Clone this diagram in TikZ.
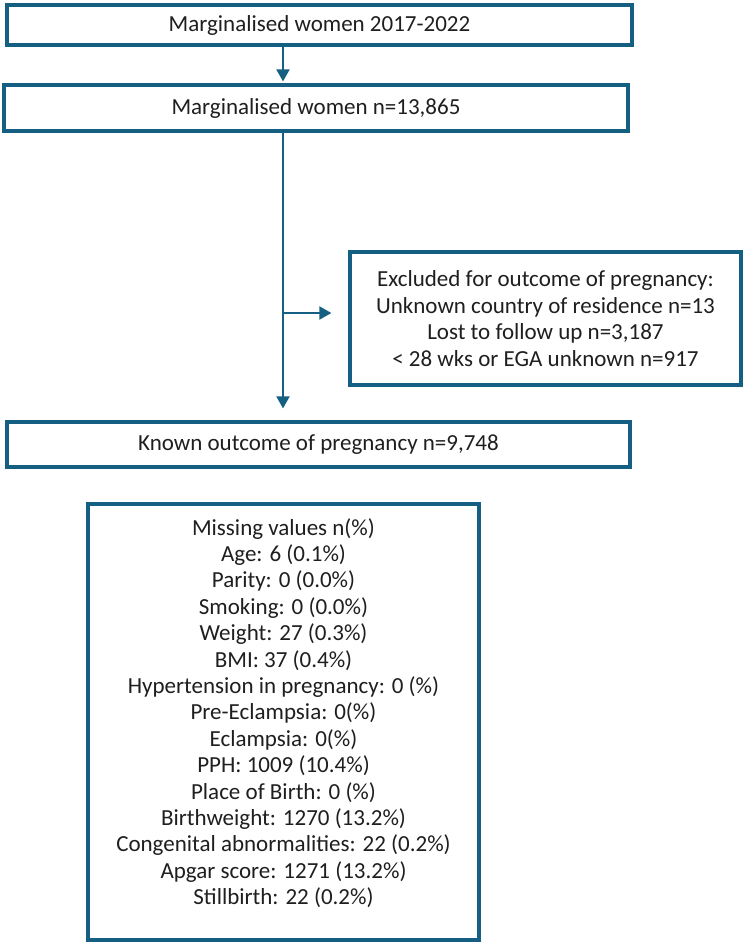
\documentclass[tikz,border=0pt]{standalone}
\usepackage{fontspec}
\setmainfont{Carlito}
\usetikzlibrary{arrows.meta}
\definecolor{fc}{HTML}{156082}
\begin{document}
\begin{tikzpicture}[x=1pt,y=1pt,
  box/.style={draw=fc, line width=3.2pt, fill=white, inner sep=0pt, align=center,
    text=black!88, font=\fontsize{23}{26.5}\selectfont},
  txt/.style={inner sep=0pt, align=center, text=black!88, font=\fontsize{23}{26.4}\selectfont},
  arr/.style={draw=fc, line width=2pt, -{Triangle[width=13pt,length=12pt]}},
  ln/.style={draw=fc, line width=2pt}]
\useasboundingbox[fill=white] (0,0) rectangle (744,-946);
\node[box, minimum width=625pt, minimum height=40pt] (b1) at (319.5,-25) {Marginalised women 2017-2022};
\node[box, minimum width=624pt, minimum height=46pt] (b2) at (316,-108) {Marginalised women n=13,865};
\node[box, minimum width=391pt, minimum height=133pt] (b3) at (545.5,-318.5) {Excluded for outcome of pregnancy:\\Unknown country of residence n=13\\Lost to follow up n=3,187\\< 28 wks or EGA unknown n=917};
\node[box, minimum width=623pt, minimum height=45pt] (b4) at (318.5,-444.5) {Known outcome of pregnancy n=9,748};
\node[box, minimum width=391pt, minimum height=436pt] (b5) at (283.5,-722) {};
\node[txt] (miss) at (283.5,-713) {Missing values n(\%)\\Age: 6 (0.1\%)\\Parity: 0 (0.0\%)\\Smoking: 0 (0.0\%)\\Weight: 27 (0.3\%)\\BMI: 37 (0.4\%)\\Hypertension in pregnancy: 0 (\%)\\Pre-Eclampsia: 0(\%)\\Eclampsia: 0(\%)\\PPH: 1009 (10.4\%)\\Place of Birth: 0 (\%)\\Birthweight: 1270 (13.2\%)\\Congenital abnormalities: 22 (0.2\%)\\Apgar score: 1271 (13.2\%)\\Stillbirth: 22 (0.2\%)};
\coordinate (c) at (283,0);
\coordinate (j) at (283,-313);
\draw[arr, shorten >=2pt] (b1.south -| c) -- (b2.north -| c);
\draw[arr, shorten >=12pt] (b2.south -| c) -- (b4.north -| c);
\draw[arr, shorten >=17pt] (j) -- (j -| b3.west);
\end{tikzpicture}
\end{document}
